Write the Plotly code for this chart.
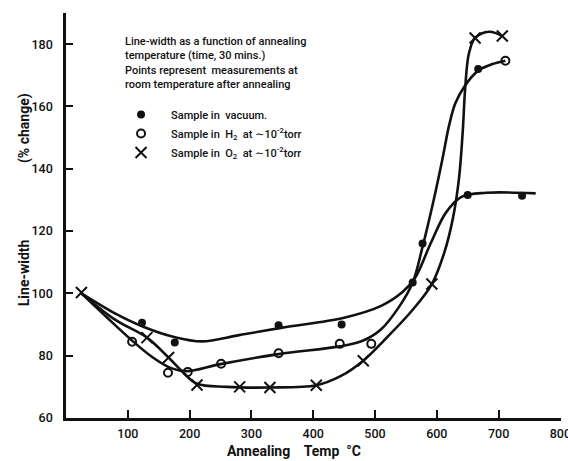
import plotly.graph_objects as go

vac_t = [123, 176, 344, 446, 561, 577, 650, 667, 738]
vac_v = [90.6, 84.2, 89.8, 90.0, 103.5, 116.0, 131.6, 172.0, 131.3]

h2_t = [107, 165, 197, 251, 344, 443, 494, 711]
h2_v = [84.5, 74.5, 74.8, 77.4, 80.8, 83.8, 83.8, 174.7]

o2_t = [25, 131, 166, 212, 281, 330, 405, 481, 592, 662, 706]
o2_v = [100.3, 85.8, 79.4, 70.6, 70.0, 69.8, 70.5, 78.4, 103.0, 182.0, 182.6]

# ---- hand-drawn smooth curves ----
vac_curve_t = [25, 80, 125, 175, 220, 280, 350, 450, 510, 545, 565, 590, 615, 640, 680, 760]
vac_curve_v = [100, 93.5, 89.3, 86, 84.6, 86.6, 89, 92.2, 96, 100.5, 105, 116, 126, 131, 132.3, 132.1]

h2_curve_t = [25, 65, 105, 140, 170, 195, 250, 344, 443, 480, 510, 540, 561, 577, 595, 609, 620, 630, 645, 667, 690, 711]
h2_curve_v = [100, 92.5, 85.2, 79.5, 76.0, 75.0, 77.3, 80.5, 83.0, 84.8, 88.5, 96, 103.5, 115, 130, 143, 154, 161, 166.5, 171.5, 173.6, 174.7]

o2_curve_t = [25, 80, 131, 166, 190, 212, 260, 330, 405, 445, 481, 520, 560, 592, 612, 626, 636, 642, 646, 652, 662, 685, 706]
o2_curve_v = [100, 91.5, 85.8, 79.4, 74.5, 71.0, 70.0, 69.8, 70.5, 73.5, 78.4, 86, 94.5, 103, 113, 124, 137, 152, 166, 177, 182, 184, 182.6]

x_ticks = [100, 200, 300, 400, 500, 600, 700, 800]
y_ticks = [60, 80, 100, 120, 140, 160, 180]

note_lines = ["Line-width as a function of annealing",
              "temperature (time, 30\u00a0mins.)",
              "Points represent\u00a0 measurements at",
              "room temperature after annealing"]
legend_names = ["Sample in\u00a0 vacuum.",
                "Sample in\u00a0 H<sub>2</sub>\u00a0 at \u223c10<sup>-2</sup>torr",
                "Sample in\u00a0 O<sub>2</sub>\u00a0 at \u223c10<sup>-2</sup>torr"]

FONT = "Roboto, 'DejaVu Sans', sans-serif"
BLACK = "#111111"

fig = go.Figure()
for ct, cv in [(vac_curve_t, vac_curve_v), (h2_curve_t, h2_curve_v), (o2_curve_t, o2_curve_v)]:
    fig.add_trace(go.Scatter(x=ct, y=cv, mode="lines", showlegend=False, hoverinfo="skip",
                             line=dict(color=BLACK, width=2.6, shape="spline", smoothing=1.0)))

fig.add_trace(go.Scatter(x=vac_t, y=vac_v, mode="markers", name=legend_names[0],
                         marker=dict(symbol="circle", size=8, color=BLACK)))
fig.add_trace(go.Scatter(x=h2_t, y=h2_v, mode="markers", name=legend_names[1],
                         marker=dict(symbol="circle-open", size=8, color=BLACK, line=dict(width=2, color=BLACK))))
fig.add_trace(go.Scatter(x=o2_t, y=o2_v, mode="markers", name=legend_names[2],
                         marker=dict(symbol="x-thin-open", size=11, color=BLACK, line=dict(width=2, color=BLACK))))

fig.update_layout(
    width=568, height=461,
    margin=dict(l=66, r=7, t=13, b=43, autoexpand=False),
    paper_bgcolor="white", plot_bgcolor="white",
    font=dict(family=FONT, color=BLACK, size=12, weight=500),
    legend=dict(x=0.091, y=0.785, xanchor="left", yanchor="top", itemwidth=50,
                bgcolor="rgba(0,0,0,0)", font=dict(size=11, family=FONT, weight=500), tracegroupgap=0),
    xaxis=dict(range=[0, 801], tickvals=x_ticks, ticks="inside", ticklen=8, tickwidth=2,
               tickcolor=BLACK, showline=True, linewidth=2.5, linecolor=BLACK, showgrid=False,
               zeroline=False, tickfont=dict(size=12.5, weight=500), ticklabelstandoff=2,
               ticklabeloverflow="allow", automargin=False),
    yaxis=dict(range=[60, 190], tickvals=y_ticks, ticks="inside", ticklen=7, tickwidth=2,
               tickcolor=BLACK, showline=True, linewidth=2.5, linecolor=BLACK, showgrid=False,
               zeroline=False, tickfont=dict(size=12.5, weight=500), ticklabelstandoff=8,
               automargin=False),
    annotations=[
        dict(text="<br>".join(note_lines), xref="paper", yref="paper", x=0.115, y=0.95,
             xanchor="left", yanchor="top", align="left", showarrow=False,
             font=dict(size=11, family=FONT, weight=500)),
        dict(text="<b>Annealing\u00a0\u00a0\u00a0 Temp\u00a0 \u00b0C</b>", xref="paper", yref="paper",
             x=0.46, y=-0.081, xanchor="center", yanchor="middle", showarrow=False,
             font=dict(size=14, family=FONT)),
        dict(text="<b>Line-width" + "\u00a0" * 22 + "(% change)</b>", xref="paper", yref="paper",
             x=-0.085, y=0.54, xanchor="center", yanchor="middle", textangle=-90, showarrow=False,
             font=dict(size=14, family=FONT)),
    ],
)

fig.write_html("out.html")
